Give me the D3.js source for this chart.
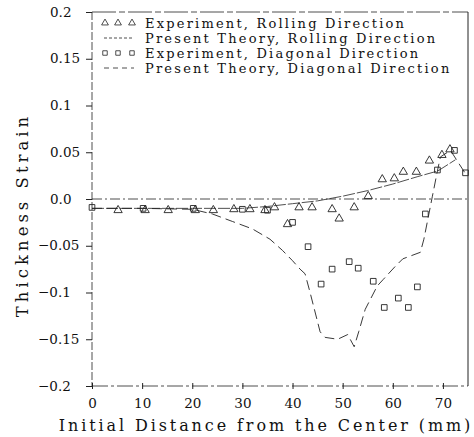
<!DOCTYPE html>
<html>
<head>
<meta charset="utf-8">
<script src="https://cdn.jsdelivr.net/npm/d3@7"></script>
<style>
  body { margin: 0; background: #fff; }
  svg { font-family: "DejaVu Serif", serif; }
</style>
</head>
<body>
<svg id="chart" width="474" height="437"></svg>
<script>
// experiment, rolling direction (triangles)
var rollExpX = [5.2, 10.6, 15.2, 20.6, 24.2, 28.3, 31.5, 34.5, 36.4, 39, 41.3, 43.9, 47.9, 49.3, 52.3, 55.1, 57.9, 60.3, 62.1, 64.7, 67.3, 69.8, 71.4];
var rollExpY = [-0.012, -0.012, -0.012, -0.012, -0.012, -0.011, -0.011, -0.012, -0.009, -0.027, -0.009, -0.009, -0.011, -0.021, -0.009, 0.003, 0.021, 0.022, 0.029, 0.029, 0.041, 0.047, 0.053];
// experiment, diagonal direction (squares)
var diagExpX = [0, 10.2, 20.2, 30, 35, 40, 43.1, 45.7, 47.9, 51.3, 53.1, 56.1, 58.3, 61.1, 63.1, 64.9, 66.5, 68.9, 72.3, 74.5];
var diagExpY = [-0.009, -0.01, -0.01, -0.011, -0.012, -0.025, -0.051, -0.091, -0.075, -0.067, -0.074, -0.088, -0.116, -0.106, -0.116, -0.094, -0.016, 0.031, 0.052, 0.028];
// present theory, rolling direction
var rollThX = [0, 10, 20, 30, 35, 40, 45, 48, 50, 55, 60, 65, 69, 72.5];
var rollThY = [-0.01, -0.01, -0.01, -0.01, -0.008, -0.005, -0.002, 0.001, 0.003, 0.009, 0.016, 0.024, 0.03, 0.042];
// present theory, diagonal direction
var diagThX = [0, 10, 20, 24, 28, 32, 35.5, 38, 40, 41.5, 42.5, 43.5, 45.5, 46.5, 49, 51, 52.3, 53.2, 54.5, 56.9, 58.1, 60.5, 62, 65.5, 66.2, 67.9, 68.9, 69.5, 71.5, 74.5];
var diagThY = [-0.01, -0.01, -0.011, -0.016, -0.024, -0.032, -0.043, -0.055, -0.066, -0.075, -0.08, -0.1, -0.142, -0.148, -0.15, -0.145, -0.158, -0.142, -0.118, -0.093, -0.086, -0.072, -0.064, -0.057, -0.043, 0.003, 0.03, 0.045, 0.052, 0.027];

var xTicks = [0, 10, 20, 30, 40, 50, 60, 70];
var yTicks = [0.2, 0.15, 0.1, 0.05, 0, -0.05, -0.1, -0.15, -0.2];
var yTickLabels = ['0.2', '0.15', '0.1', '0.05', '0.0', '\u22120.05', '\u22120.1', '\u22120.15', '\u22120.2'];
var legendLabels = ['Experiment, Rolling Direction', 'Present Theory, Rolling Direction',
                    'Experiment, Diagonal Direction', 'Present Theory, Diagonal Direction'];

var svg = d3.select('#chart');
var x = d3.scaleLinear().domain([0, 75]).range([92, 468]);
var y = d3.scaleLinear().domain([-0.2, 0.2]).range([386, 12]);
var ink = '#222';

// frame
svg.append('line').attr('x1', x(0)).attr('x2', x(75)).attr('y1', y(0.2)).attr('y2', y(0.2))
    .style('stroke', ink).style('stroke-width', 0.8).style('stroke-dasharray', '24,3,6,3');
svg.append('line').attr('x1', x(75)).attr('x2', x(75)).attr('y1', y(0.2)).attr('y2', y(-0.2))
    .style('stroke', ink).style('stroke-width', 1);
svg.append('line').attr('x1', x(0)).attr('x2', x(0)).attr('y1', y(0.2)).attr('y2', y(-0.2))
    .style('stroke', ink).style('stroke-width', 0.8).style('stroke-dasharray', '8,2');
svg.append('line').attr('x1', x(0)).attr('x2', x(75)).attr('y1', y(-0.2)).attr('y2', y(-0.2))
    .style('stroke', ink).style('stroke-width', 0.8).style('stroke-dasharray', '16,3,3,3');

// zero line
svg.append('line').attr('x1', x(0)).attr('x2', x(75)).attr('y1', y(0)).attr('y2', y(0))
    .style('stroke', ink).style('stroke-width', 0.8).style('stroke-dasharray', '10,3,2,3');

// axes
var xAxis = d3.axisBottom(x).tickValues(xTicks).tickSize(5).tickPadding(7).tickFormat(d3.format('d'));
var gx = svg.append('g').attr('transform', 'translate(0,' + y(-0.2) + ')').call(xAxis);
gx.select('.domain').remove();
gx.selectAll('line').style('stroke', ink).attr('y1', -3).attr('y2', 3);
gx.selectAll('text').style('font-family', 'DejaVu Serif').style('font-size', '13.5px').style('fill', '#111');

var yAxis = d3.axisLeft(y).tickValues(yTicks).tickSize(6).tickFormat('');
var gy = svg.append('g').attr('transform', 'translate(' + x(0) + ',0)').call(yAxis);
gy.select('.domain').remove();
gy.selectAll('line').style('stroke', ink);

svg.selectAll('.ylab').data(yTicks).enter().append('text')
    .attr('class', 'ylab')
    .attr('x', function (d) { return d < 0 ? 38 : 50; })
    .attr('y', function (d) { return y(d); })
    .attr('dy', '0.35em')
    .style('font-size', '13.5px').style('fill', '#111')
    .text(function (d, i) { return yTickLabels[i]; });

// axis titles
svg.append('text').attr('x', 266).attr('y', 431)
    .style('text-anchor', 'middle').style('font-size', '16px').style('letter-spacing', '2.9px')
    .style('fill', '#111').text('Initial Distance from the Center (mm)');
svg.append('text').attr('transform', 'translate(28,' + 215 + ') rotate(-90)')
    .style('text-anchor', 'middle').style('font-size', '16.5px').style('letter-spacing', '4px')
    .style('fill', '#111').text('Thickness Strain');

// theory lines
var line = d3.line().x(function (d) { return x(d[0]); }).y(function (d) { return y(d[1]); });
svg.append('path').datum(d3.zip(rollThX, rollThY)).attr('d', line)
    .style('fill', 'none').style('stroke', ink).style('stroke-width', 0.8).style('stroke-dasharray', '12,2');
svg.append('path').datum(d3.zip(diagThX, diagThY)).attr('d', line)
    .style('fill', 'none').style('stroke', ink).style('stroke-width', 0.9).style('stroke-dasharray', '10,5');

// markers
var tri = d3.symbol().type(d3.symbolTriangle).size(30);
var sq = d3.symbol().type(d3.symbolSquare).size(32);
svg.selectAll('.tri').data(d3.zip(rollExpX, rollExpY)).enter().append('path')
    .attr('class', 'tri').attr('d', tri)
    .attr('transform', function (d) { return 'translate(' + x(d[0]) + ',' + y(d[1]) + ')'; })
    .style('fill', 'none').style('stroke', ink).style('stroke-width', 0.9);
svg.selectAll('.sq').data(d3.zip(diagExpX, diagExpY)).enter().append('path')
    .attr('class', 'sq').attr('d', sq)
    .attr('transform', function (d) { return 'translate(' + x(d[0]) + ',' + y(d[1]) + ')'; })
    .style('fill', 'none').style('stroke', ink).style('stroke-width', 0.9);

// legend
var rowY = [23, 38, 53, 68];
var markX = [105, 118, 132];
legendLabels.forEach(function (lab, i) {
    var yy = rowY[i];
    if (i === 0 || i === 2) {
        markX.forEach(function (mx) {
            svg.append('path').attr('d', i === 0 ? d3.symbol().type(d3.symbolTriangle).size(20)() : d3.symbol().type(d3.symbolSquare).size(20)())
                .attr('transform', 'translate(' + mx + ',' + yy + ')')
                .style('fill', 'none').style('stroke', ink).style('stroke-width', 0.8);
        });
    } else {
        svg.append('line').attr('x1', 104).attr('x2', 134).attr('y1', yy).attr('y2', yy)
            .style('stroke', ink).style('stroke-width', 0.8)
            .style('stroke-dasharray', i === 1 ? '3,2' : '5,4');
    }
    svg.append('text').attr('x', 145).attr('y', yy).attr('dy', '0.35em')
        .style('font-size', '13px').style('letter-spacing', '2.2px').style('fill', '#111').text(lab);
});
</script>
</body>
</html>
